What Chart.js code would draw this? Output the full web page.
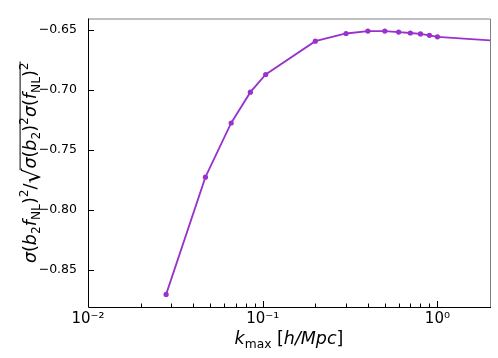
<!DOCTYPE html>
<html>
<head>
<meta charset="utf-8">
<script src="https://cdn.jsdelivr.net/npm/chart.js@4/dist/chart.umd.min.js"></script>
<style>
  html, body { margin: 0; padding: 0; background: #fff; }
  #wrap { width: 498px; height: 358px; }
</style>
</head>
<body>
<div id="wrap"><canvas id="myChart" width="498" height="358"></canvas></div>
<script>
// k_max values [h/Mpc] and the correlation ratio
const kmax  = [0.028, 0.047, 0.066, 0.085, 0.104, 0.2, 0.3, 0.4, 0.5, 0.6, 0.7, 0.8, 0.9, 1.0, 3.0]
const ratio = [-0.8703, -0.7726, -0.7274, -0.7017, -0.6870, -0.6592, -0.6528, -0.6508, -0.6508,
               -0.6516, -0.6524, -0.6532, -0.6543, -0.6556, -0.6603]
const yTicks = [-0.85, -0.80, -0.75, -0.70, -0.65]
const xMajor = [0.01, 0.1, 1]
const xLabels = {0.01: '10\u207B\u00B2', 0.1: '10\u207B\u00B9', 1: '10\u2070'}
const xRange = [0.01, 2]
const yRange = [-0.8808, -0.6403]

const FONT = 'DejaVu Sans'
const purple = '#9932CC'

// minor ticks 2..9 in each decade
let xTicks = []
xMajor.forEach(m => {
  for (let i = 1; i <= 9; i++) {
    let v = +(m * i).toPrecision(3)
    if (v <= xRange[1]) xTicks.push(v)
  }
})

// draw a run of text pieces (sub/superscripts, italics, radical) centered on (0,0)
function richText(ctx, parts, size) {
  let pieces = parts.map(p => {
    let s = p.s === 'rad' ? size * 1.35 : p.s ? size * 0.7 : size
    let font = (p.i ? 'italic ' : '') + s + 'px "' + FONT + '"'
    ctx.font = font
    let m = ctx.measureText(p.t)
    return {...p, font: font, w: m.width, asc: m.actualBoundingBoxAscent}
  })
  let total = pieces.reduce((a, p) => a + p.w, 0)
  let x = -total / 2
  let over = null, top = -size * 1.3
  pieces.forEach(p => {
    ctx.font = p.font
    let dy = p.s === 'sub' ? size * 0.22 : p.s === 'sup' ? -size * 0.45 : p.s === 'rad' ? size * 0.2 : 0
    ctx.fillText(p.t, x, dy)
    if (p.s === 'rad') top = dy - p.asc + 0.6
    if (p.o) {
      if (!over) over = {x0: x}
      over.x1 = x + p.w
    }
    x += p.w
  })
  if (over) {
    ctx.beginPath()
    ctx.lineWidth = 1
    ctx.moveTo(over.x0 - 1.5, top)
    ctx.lineTo(over.x1 + 1, top)
    ctx.stroke()
  }
}

const axesPlugin = {
  id: 'mplAxes',
  afterDraw(chart) {
    const ctx = chart.ctx
    const a = chart.chartArea
    const xs = chart.scales.x, ys = chart.scales.y
    ctx.save()
    // inward tick marks
    ctx.strokeStyle = '#000'
    ctx.lineWidth = 1
    ctx.beginPath()
    xTicks.forEach(v => {
      let px = Math.round(xs.getPixelForValue(v)) + 0.5
      let len = xMajor.includes(v) ? 6 : 3.5
      ctx.moveTo(px, a.bottom)
      ctx.lineTo(px, a.bottom - len)
    })
    yTicks.forEach(v => {
      let py = Math.round(ys.getPixelForValue(v)) + 0.5
      ctx.moveTo(a.left, py)
      ctx.lineTo(a.left + 6, py)
    })
    ctx.stroke()
    // frame: left/bottom black, top/right grey
    ctx.beginPath()
    ctx.strokeStyle = '#808080'
    ctx.moveTo(a.left, a.top + 0.5)
    ctx.lineTo(a.right + 0.5, a.top + 0.5)
    ctx.lineTo(a.right + 0.5, a.bottom)
    ctx.stroke()
    ctx.beginPath()
    ctx.strokeStyle = '#000'
    ctx.moveTo(a.left + 0.5, a.top)
    ctx.lineTo(a.left + 0.5, a.bottom + 0.5)
    ctx.lineTo(a.right + 1, a.bottom + 0.5)
    ctx.stroke()

    // axis titles
    ctx.fillStyle = '#000'
    ctx.strokeStyle = '#000'
    ctx.textBaseline = 'alphabetic'
    ctx.textAlign = 'left'
    ctx.save()
    ctx.translate((a.left + a.right) / 2, 344)
    richText(ctx, [
      {t: 'k', i: 1}, {t: 'max', s: 'sub'}, {t: ' ['}, {t: 'h/Mpc', i: 1}, {t: ']'}
    ], 17.5)
    ctx.restore()

    ctx.save()
    ctx.translate(36, (a.top + a.bottom) / 2)
    ctx.rotate(-Math.PI / 2)
    richText(ctx, [
      {t: '\u03C3', i: 1}, {t: '('}, {t: 'b', i: 1}, {t: '2', s: 'sub'}, {t: 'f', i: 1}, {t: 'NL', s: 'sub'},
      {t: ')'}, {t: '2', s: 'sup'}, {t: '/'}, {t: '\u221A', s: 'rad'},
      {t: '\u03C3', i: 1, o: 1}, {t: '(', o: 1}, {t: 'b', i: 1, o: 1}, {t: '2', s: 'sub', o: 1}, {t: ')', o: 1},
      {t: '2', s: 'sup', o: 1}, {t: '\u03C3', i: 1, o: 1}, {t: '(', o: 1}, {t: 'f', i: 1, o: 1},
      {t: 'NL', s: 'sub', o: 1}, {t: ')', o: 1}, {t: '2', s: 'sup', o: 1}
    ], 17.5)
    ctx.restore()
    ctx.restore()
  }
}

let ctx = document.getElementById('myChart').getContext('2d')
let myChart = new Chart(ctx, {
  type: 'line',
  data: {
    datasets: [{
      data: kmax.map((k, i) => ({x: k, y: ratio[i]})),
      borderColor: purple,
      backgroundColor: purple,
      borderWidth: 1.8,
      pointRadius: 2.6,
      pointBorderWidth: 0,
      pointHoverRadius: 2.6,
      tension: 0,
      clip: 0
    }]
  },
  options: {
    responsive: false,
    devicePixelRatio: 1,
    animation: false,
    events: [],
    layout: {padding: {left: 0, top: 8, right: 8, bottom: 0}},
    plugins: {legend: {display: false}, tooltip: {enabled: false}},
    scales: {
      x: {
        type: 'logarithmic',
        min: xRange[0],
        max: xRange[1],
        grid: {display: false, drawTicks: false},
        border: {display: false},
        afterBuildTicks: s => { s.ticks = xTicks.map(v => ({value: v, major: xMajor.includes(v)})) },
        afterFit: s => { s.height = 51 },
        ticks: {
          autoSkip: false,
          maxRotation: 0,
          padding: 3,
          color: '#000',
          font: {family: FONT, size: 15},
          callback: v => xLabels[v] || ''
        }
      },
      y: {
        min: yRange[0],
        max: yRange[1],
        grid: {display: false, drawTicks: false},
        border: {display: false},
        afterBuildTicks: s => { s.ticks = yTicks.map(v => ({value: v})) },
        afterFit: s => { s.width = 88 },
        ticks: {
          padding: 11,
          color: '#000',
          font: {family: FONT, size: 12.5},
          callback: v => '\u2212' + Math.abs(v).toFixed(2)
        }
      }
    }
  },
  plugins: [axesPlugin]
})
</script>
</body>
</html>
